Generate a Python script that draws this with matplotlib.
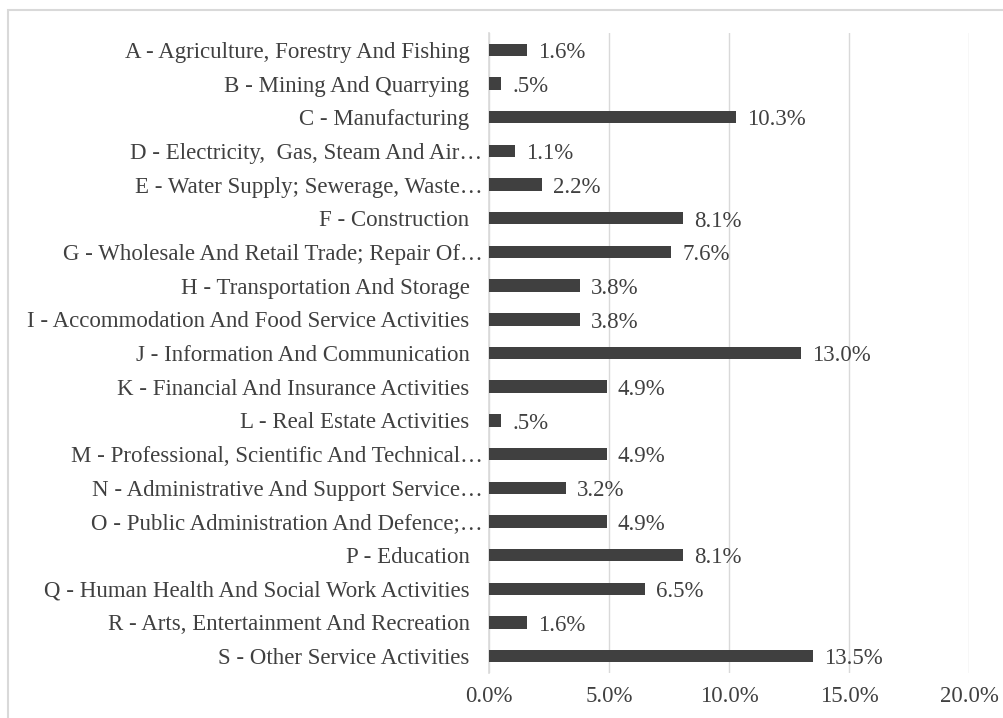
import matplotlib
matplotlib.use("Agg")
import matplotlib.pyplot as plt
from matplotlib.patches import Rectangle
from matplotlib.transforms import ScaledTranslation

categories = [
    "A - Agriculture, Forestry And Fishing",
    "B - Mining And Quarrying",
    "C - Manufacturing",
    "D - Electricity,  Gas, Steam And Air\u2026",
    "E - Water Supply; Sewerage, Waste\u2026",
    "F - Construction",
    "G - Wholesale And Retail Trade; Repair Of\u2026",
    "H - Transportation And Storage",
    "I - Accommodation And Food Service Activities",
    "J - Information And Communication",
    "K - Financial And Insurance Activities",
    "L - Real Estate Activities",
    "M - Professional, Scientific And Technical\u2026",
    "N - Administrative And Support Service\u2026",
    "O - Public Administration And Defence;\u2026",
    "P - Education",
    "Q - Human Health And Social Work Activities",
    "R - Arts, Entertainment And Recreation",
    "S - Other Service Activities",
]
values = [1.6, 0.5, 10.3, 1.1, 2.2, 8.1, 7.6, 3.8, 3.8, 13.0, 4.9, 0.5, 4.9, 3.2, 4.9, 8.1, 6.5, 1.6, 13.5]
value_labels = ["1.6%", ".5%", "10.3%", "1.1%", "2.2%", "8.1%", "7.6%", "3.8%", "3.8%", "13.0%",
                "4.9%", ".5%", "4.9%", "3.2%", "4.9%", "8.1%", "6.5%", "1.6%", "13.5%"]
xticks = [0, 5, 10, 15, 20]
xtick_labels = ["0.0%", "5.0%", "10.0%", "15.0%", "20.0%"]

plt.rcParams['font.family'] = ['Liberation Serif', 'DejaVu Serif']
text_color = "#404040"
fs = 16.5

fig = plt.figure(figsize=(10.04, 7.18), dpi=100)
fig.patches.append(Rectangle((8/1004, -0.01), 1.1, 1 - 10/718 + 0.01, transform=fig.transFigure,
                             fill=False, edgecolor="#d9d9d9", linewidth=1.5))
ax = fig.add_axes([489/1004, 1 - 673/718, (969 - 489)/1004, (673 - 33)/718])

y = list(range(len(categories)))
ax.barh(y, values, height=0.37, color="#404040", zorder=3)
ax.set_ylim(len(categories) - 0.5, -0.5)
ax.set_xlim(0, 20)
ax.set_xticks(xticks)
ax.set_xticklabels(xtick_labels)
ax.set_yticks(y)
ax.set_yticklabels(categories)
ax.tick_params(axis='y', length=0, pad=14, labelsize=fs, labelcolor=text_color)
ax.tick_params(axis='x', length=0, pad=9, labelsize=fs, labelcolor=text_color)
ax.grid(axis='x', color="#d9d9d9", linewidth=1, zorder=0)
for s in ['top', 'right', 'bottom']:
    ax.spines[s].set_visible(False)
ax.spines['left'].set_color("#d9d9d9")
ax.spines['left'].set_linewidth(1.2)

for lab in ax.get_yticklabels():
    if lab.get_text().endswith("\u2026"):
        lab.set_transform(lab.get_transform() + ScaledTranslation(13/100, 0, fig.dpi_scale_trans))

for yi, v, lab in zip(y, values, value_labels):
    ax.annotate(lab, (v, yi), xytext=(8, -2), textcoords='offset points',
                ha='left', va='center', fontsize=fs, color=text_color)

fig.savefig("out.png", dpi=100)
